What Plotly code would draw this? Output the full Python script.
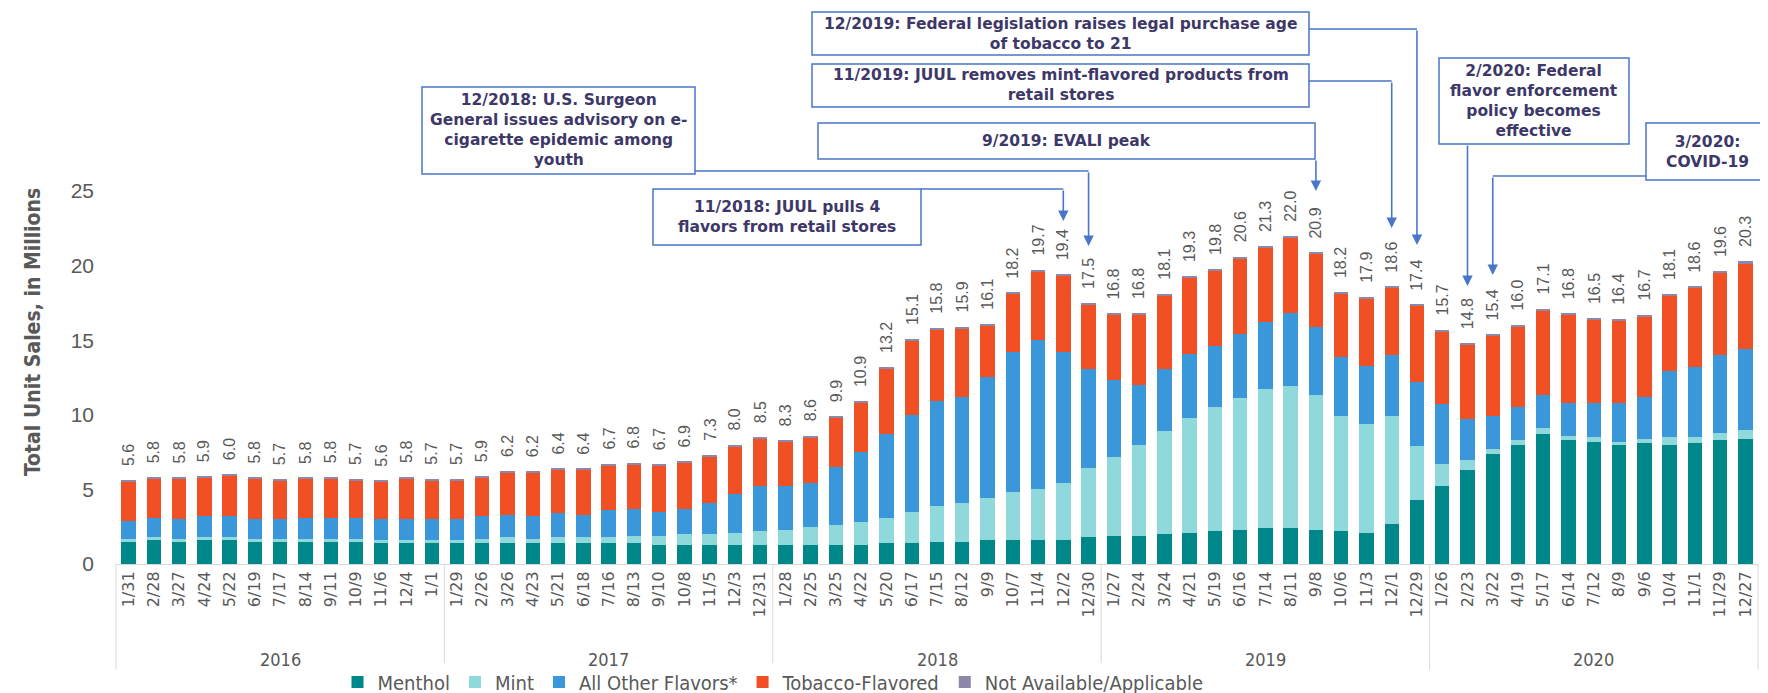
import plotly.graph_objects as go

# ---- data ----
years = ["2016", "2017", "2018", "2019", "2020"]
year_counts = [13, 13, 13, 13, 13]

dates = [
    "1/31", "2/28", "3/27", "4/24", "5/22", "6/19", "7/17", "8/14", "9/11", "10/9", "11/6", "12/4", "1/1",
    "1/29", "2/26", "3/26", "4/23", "5/21", "6/18", "7/16", "8/13", "9/10", "10/8", "11/5", "12/3", "12/31",
    "1/28", "2/25", "3/25", "4/22", "5/20", "6/17", "7/15", "8/12", "9/9", "10/7", "11/4", "12/2", "12/30",
    "1/27", "2/24", "3/24", "4/21", "5/19", "6/16", "7/14", "8/11", "9/8", "10/6", "11/3", "12/1", "12/29",
    "1/26", "2/23", "3/22", "4/19", "5/17", "6/14", "7/12", "8/9", "9/6", "10/4", "11/1", "11/29", "12/27",
]

menthol = [
    1.5, 1.6, 1.5, 1.6, 1.6, 1.5, 1.5, 1.5, 1.5, 1.5, 1.4, 1.4, 1.4,
    1.4, 1.4, 1.4, 1.4, 1.4, 1.4, 1.4, 1.4, 1.3, 1.3, 1.3, 1.3, 1.3,
    1.3, 1.3, 1.3, 1.3, 1.4, 1.4, 1.5, 1.5, 1.6, 1.6, 1.6, 1.6, 1.8,
    1.9, 1.9, 2.0, 2.1, 2.2, 2.3, 2.4, 2.4, 2.3, 2.2, 2.1, 2.7, 4.3,
    5.2, 6.3, 7.4, 8.0, 8.7, 8.3, 8.2, 8.0, 8.1, 8.0, 8.1, 8.3, 8.4,
]
mint = [
    0.2, 0.2, 0.2, 0.2, 0.2, 0.2, 0.2, 0.2, 0.2, 0.2, 0.2, 0.2, 0.2,
    0.2, 0.3, 0.4, 0.3, 0.4, 0.4, 0.4, 0.5, 0.6, 0.7, 0.7, 0.8, 0.9,
    1.0, 1.2, 1.3, 1.5, 1.7, 2.1, 2.4, 2.6, 2.8, 3.2, 3.4, 3.8, 4.6,
    5.3, 6.1, 6.9, 7.7, 8.3, 8.8, 9.3, 9.5, 9.0, 7.7, 7.3, 7.2, 3.6,
    1.5, 0.7, 0.3, 0.3, 0.4, 0.3, 0.3, 0.2, 0.3, 0.5, 0.4, 0.5, 0.6,
]
other = [
    1.2, 1.3, 1.3, 1.4, 1.4, 1.3, 1.3, 1.4, 1.4, 1.4, 1.4, 1.4, 1.4,
    1.4, 1.5, 1.5, 1.5, 1.6, 1.5, 1.8, 1.8, 1.6, 1.7, 2.1, 2.6, 3.0,
    2.9, 2.9, 3.9, 4.7, 5.6, 6.5, 7.0, 7.1, 8.1, 9.4, 10.0, 8.8, 6.7,
    5.1, 4.0, 4.2, 4.3, 4.1, 4.3, 4.5, 4.9, 4.6, 4.0, 3.9, 4.1, 4.3,
    4.0, 2.7, 2.2, 2.2, 2.2, 2.2, 2.3, 2.6, 2.8, 4.4, 4.7, 5.2, 5.4,
]
tobacco = [
    2.6, 2.6, 2.7, 2.6, 2.7, 2.7, 2.6, 2.6, 2.6, 2.5, 2.5, 2.7, 2.6,
    2.6, 2.6, 2.8, 2.9, 2.9, 3.0, 3.0, 3.0, 3.1, 3.1, 3.1, 3.2, 3.2,
    3.0, 3.1, 3.3, 3.3, 4.4, 5.0, 4.8, 4.6, 3.5, 3.9, 4.6, 5.1, 4.3,
    4.4, 4.7, 4.9, 5.1, 5.1, 5.1, 5.0, 5.1, 4.9, 4.2, 4.5, 4.5, 5.1,
    4.9, 5.0, 5.4, 5.4, 5.7, 5.9, 5.6, 5.5, 5.4, 5.1, 5.3, 5.5, 5.7,
]
not_avail = [
    0.1, 0.1, 0.1, 0.1, 0.1, 0.1, 0.1, 0.1, 0.1, 0.1, 0.1, 0.1, 0.1,
    0.1, 0.1, 0.1, 0.1, 0.1, 0.1, 0.1, 0.1, 0.1, 0.1, 0.1, 0.1, 0.1,
    0.1, 0.1, 0.1, 0.1, 0.1, 0.1, 0.1, 0.1, 0.1, 0.1, 0.1, 0.1, 0.1,
    0.1, 0.1, 0.1, 0.1, 0.1, 0.1, 0.1, 0.1, 0.1, 0.1, 0.1, 0.1, 0.1,
    0.1, 0.1, 0.1, 0.1, 0.1, 0.1, 0.1, 0.1, 0.1, 0.1, 0.1, 0.1, 0.2,
]
totals = [
    5.6, 5.8, 5.8, 5.9, 6.0, 5.8, 5.7, 5.8, 5.8, 5.7, 5.6, 5.8, 5.7,
    5.7, 5.9, 6.2, 6.2, 6.4, 6.4, 6.7, 6.8, 6.7, 6.9, 7.3, 8.0, 8.5,
    8.3, 8.6, 9.9, 10.9, 13.2, 15.1, 15.8, 15.9, 16.1, 18.2, 19.7, 19.4, 17.5,
    16.8, 16.8, 18.1, 19.3, 19.8, 20.6, 21.3, 22.0, 20.9, 18.2, 17.9, 18.6, 17.4,
    15.7, 14.8, 15.4, 16.0, 17.1, 16.8, 16.5, 16.4, 16.7, 18.1, 18.6, 19.6, 20.3,
]

series = [
    ("Menthol", menthol, "#00878a"),
    ("Mint", mint, "#8fd8dc"),
    ("All Other Flavors*", other, "#3a97d9"),
    ("Tobacco-Flavored", tobacco, "#f05024"),
    ("Not Available/Applicable", not_avail, "#8d87aa"),
]

# ---- pixel helpers (figure is a fixed 1768x693) ----
W, H = 1768, 693
L, R, T, B = 108, 18, 168, 137
PW, PH = W - L - R, H - T - B
n = len(dates)


def px(x):
    return (x - L) / PW


def py(y):
    return (H - B - y) / PH


def cat(i):
    return (i + 0.5) / n


GREY = "#595959"
BLUE = "#4a76c9"
NAVY = "#3d3868"
COND = "DejaVu Sans Condensed, Liberation Sans, sans-serif"

fig = go.Figure()
for name, vals, col in series:
    fig.add_trace(go.Bar(x=dates, y=vals, name=name, marker=dict(color=col, line=dict(width=0))))

annotations = []
shapes = []

# totals above bars
for d, t in zip(dates, totals):
    annotations.append(dict(x=d, y=t, xref="x", yref="y", text=f"{t:.1f}", showarrow=False,
                            textangle=-90, xanchor="center", yanchor="bottom", yshift=12,
                            font=dict(family="Liberation Sans, Arial", size=16, color=GREY)))

# year groups under the axis
start = 0
bounds = [0]
for yr, c in zip(years, year_counts):
    annotations.append(dict(x=(start + c / 2) / n, y=py(651), xref="paper", yref="paper", text=yr,
                            xanchor="center", yanchor="middle", showarrow=False,
                            font=dict(family=COND, size=18, color=GREY)))
    start += c
    bounds.append(start)
for b in bounds:
    shapes.append(dict(type="line", xref="paper", yref="paper", x0=b / n, x1=b / n, y0=0, y1=py(662),
                       line=dict(color="#d9d9d9", width=1)))

# y axis title
annotations.append(dict(x=px(25), y=py(324), xref="paper", yref="paper", text="<b>Total Unit Sales, in Millions</b>",
                        textangle=-90, xanchor="center", yanchor="middle", showarrow=False,
                        font=dict(family="DejaVu Sans Condensed, DejaVu Sans", size=21, color=GREY)))

# event boxes: (text, x0, x1, y0, y1) in pixels
boxes = [
    ("12/2018: U.S. Surgeon<br>General issues advisory on e-<br>cigarette epidemic among<br>youth", 414, 687, 79, 166),
    ("11/2018: JUUL pulls 4<br>flavors from retail stores", 645, 913, 181, 237),
    ("12/2019: Federal legislation raises legal purchase age<br>of tobacco to 21", 804, 1301, 4, 47),
    ("11/2019: JUUL removes mint-flavored products from<br>retail stores", 804, 1301, 56, 99),
    ("9/2019: EVALI peak", 810, 1307, 115, 151),
    ("2/2020: Federal<br>flavor enforcement<br>policy becomes<br>effective", 1431, 1621, 50, 136),
    ("3/2020:<br>COVID-19", 1638, 1760, 115, 172),
]
for txt, x0, x1, y0, y1 in boxes:
    shapes.append(dict(type="rect", xref="paper", yref="paper", x0=px(x0), x1=px(x1), y0=py(y1), y1=py(y0),
                       line=dict(color=BLUE, width=1.5), fillcolor="white", layer="below"))
    annotations.append(dict(x=px((x0 + x1) / 2), y=py((y0 + y1) / 2), xref="paper", yref="paper",
                            text=f"<b>{txt}</b>", xanchor="center", yanchor="middle", showarrow=False,
                            font=dict(family="DejaVu Sans", size=15.5, color=NAVY)))

# connectors: (start x px, bar index, horizontal y px, arrow tip y px)
connectors = [
    (687, 38, 163, 238),
    (913, 37, 181, 213),
    (1301, 51, 21, 237),
    (1301, 50, 73, 220),
    (None, 47, 151, 183),
    (None, 53, 136, 278),
    (1638, 54, 168, 267),
]
for sx, idx, hy, tip in connectors:
    if sx is not None:
        shapes.append(dict(type="line", xref="paper", yref="paper", x0=px(sx), x1=cat(idx), y0=py(hy), y1=py(hy),
                           line=dict(color=BLUE, width=1.5)))
    annotations.append(dict(x=cat(idx), y=py(tip), xref="paper", yref="paper", text="", showarrow=True,
                            ax=0, ay=-(tip - hy), arrowhead=2, arrowsize=1.3, arrowwidth=1.6, arrowcolor=BLUE))

fig.update_layout(
    width=W, height=H,
    margin=dict(l=L, r=R, t=T, b=B, autoexpand=False),
    barmode="stack", bargap=0.43,
    paper_bgcolor="white", plot_bgcolor="white",
    font=dict(family="Liberation Sans, Arial", color=GREY),
    xaxis=dict(type="category", range=[-0.5, n - 0.5], tickangle=-90, showgrid=False,
               showline=True, linecolor="#d9d9d9", ticks="",
               tickfont=dict(family="DejaVu Sans", size=16, color=GREY)),
    yaxis=dict(range=[0, 26], tickvals=[0, 5, 10, 15, 20, 25], showgrid=False, zeroline=False,
               ticklabelstandoff=21, tickfont=dict(family="Liberation Sans, Arial", size=21, color=GREY)),
    legend=dict(orientation="h", x=px(765), xanchor="center", y=py(674), yanchor="middle",
                font=dict(family=COND, size=20, color=GREY),
                traceorder="normal"),
    annotations=annotations,
    shapes=shapes,
)

fig.write_html("out.html")
